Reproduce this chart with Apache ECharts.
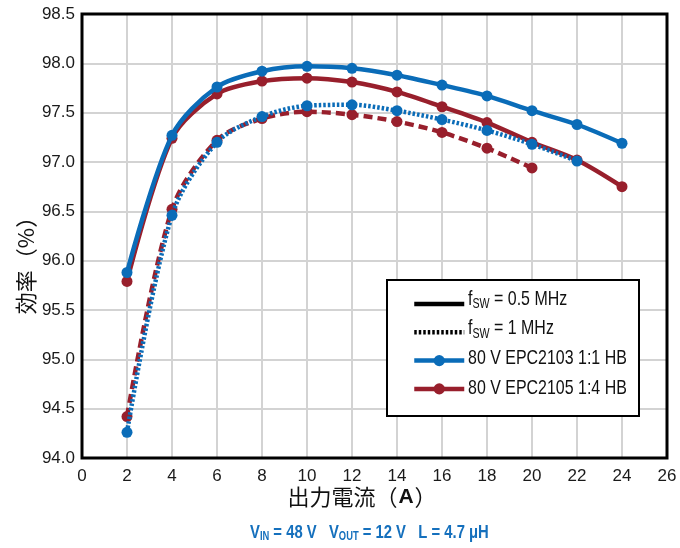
<!DOCTYPE html>
<html>
<head>
<meta charset="utf-8">
<script src="https://cdn.jsdelivr.net/npm/echarts@6/dist/echarts.min.js"></script>
<style>
  html, body { margin: 0; padding: 0; background: #fff; }
  #chart { width: 680px; height: 548px; }
</style>
</head>
<body>
<div id="chart"></div>
<script>
// Output current (A) at each measured point
const currents = [2, 4, 6, 8, 10, 12, 14, 16, 18, 20, 22, 24];

// Efficiency (%) at fsw = 0.5 MHz
const epc2103Half = [95.88, 97.27, 97.76, 97.92, 97.97, 97.95, 97.88, 97.78, 97.67, 97.52, 97.38, 97.19];
const epc2105Half = [95.79, 97.24, 97.69, 97.82, 97.85, 97.81, 97.71, 97.56, 97.40, 97.20, 97.02, 96.75];

// Efficiency (%) at fsw = 1 MHz
const epc2103One = [94.26, 96.46, 97.20, 97.46, 97.57, 97.58, 97.52, 97.43, 97.32, 97.18, 97.01];
const epc2105One = [94.42, 96.52, 97.22, 97.44, 97.51, 97.48, 97.41, 97.30, 97.14, 96.94];

// Axis ticks
const xTicks = { min: 0, max: 26, step: 2 };
const yTicks = { min: 94.0, max: 98.5, step: 0.5 };

// Legend entries and their labels
const legendNames = ['fsw05', 'fsw1', '80 V EPC2103 1:1 HB', '80 V EPC2105 1:4 HB'];
const legendLabels = [
  '{t|f}{s|SW}{t| = 0.5 MHz}',
  '{t|f}{s|SW}{t| = 1 MHz}',
  '{t|80 V EPC2103 1:1 HB}',
  '{t|80 V EPC2105 1:4 HB}'
];

const BLUE = '#0a6cb8';
const RED = '#981f2c';
const FONT = "'Liberation Sans', Arial, sans-serif";
const CJK = "'Noto Sans CJK JP', sans-serif";

const G = { left: 82, top: 14, right: 13, bottom: 90 };
const W = 680, H = 548;

// legend layout
const LEG = { boxX: 387, boxY: 280, boxW: 252, boxH: 136, iconX: 407, firstRow: 299, rowStep: 29.7, textX: 468 };

function pairs(vals) { return vals.map((v, i) => [currents[i], v]); }

const chart = echarts.init(document.getElementById('chart'), null, { renderer: 'canvas' });

const lineW = 4.5;
const sym = 11;
const smoothness = 0.3;
const NARROW = 0.76;

const legendText = legendLabels.map((txt, i) => ({
  type: 'text', z: 30, x: LEG.textX, y: LEG.firstRow + i * LEG.rowStep, scaleX: NARROW,
  style: {
    text: txt, align: 'left', verticalAlign: 'middle',
    rich: {
      t: { font: '21px ' + FONT, fill: '#111' },
      s: { font: '14px ' + FONT, fill: '#111', verticalAlign: 'bottom', padding: [10, 0, 0, 0] }
    }
  }
}));

chart.setOption({
  animation: false,
  backgroundColor: '#fff',
  grid: { left: G.left, top: G.top, right: G.right, bottom: G.bottom, containLabel: false },
  xAxis: {
    type: 'value', min: xTicks.min, max: xTicks.max, interval: xTicks.step,
    axisLine: { show: false }, axisTick: { show: false },
    splitLine: { show: true, lineStyle: { color: '#d3d3d3', width: 2 } },
    axisLabel: { fontFamily: FONT, fontSize: 17, color: '#1a1a1a', margin: 10 }
  },
  yAxis: {
    type: 'value', min: yTicks.min, max: yTicks.max, interval: yTicks.step,
    axisLine: { show: false }, axisTick: { show: false },
    splitLine: { show: true, lineStyle: { color: '#d3d3d3', width: 2 } },
    axisLabel: { fontFamily: FONT, fontSize: 17, color: '#1a1a1a', margin: 7,
      formatter: v => v.toFixed(1) }
  },
  legend: {
    orient: 'vertical', left: LEG.iconX, top: LEG.firstRow - 7,
    data: legendNames,
    itemWidth: 50, itemHeight: 14, itemGap: LEG.rowStep - 14,
    lineStyle: { width: 4.5 },
    formatter: () => '',
    selectedMode: false, z: 20
  },
  graphic: [
    { type: 'rect', z: 15,
      shape: { x: LEG.boxX, y: LEG.boxY, width: LEG.boxW, height: LEG.boxH },
      style: { fill: '#fff', stroke: '#000', lineWidth: 2 } },
    { type: 'rect', z: 30, silent: true,
      shape: { x: G.left, y: G.top, width: W - G.left - G.right, height: H - G.top - G.bottom },
      style: { fill: 'none', stroke: '#000', lineWidth: 3 } },
    { type: 'text', z: 30, x: 26, y: 260, rotation: Math.PI / 2,
      style: { text: '効率（%）', font: '22px ' + CJK, fill: '#111', align: 'center', verticalAlign: 'middle' } },
    { type: 'text', z: 30, x: 362, y: 497,
      style: {
        text: '{c|出力電流（}{b|A}{c|）}', align: 'center', verticalAlign: 'middle',
        rich: {
          c: { font: '22px ' + CJK, fill: '#111' },
          b: { font: 'bold 21px ' + FONT, fill: '#111', padding: [0, 1, 0, 1] }
        }
      } },
    { type: 'text', z: 30, x: 250, y: 533, scaleX: 0.78,
      style: {
        text: '{m|V}{s|IN}{m| = 48 V   V}{s|OUT}{m| = 12 V   L = 4.7 μH}',
        align: 'left', verticalAlign: 'middle',
        rich: {
          m: { font: 'bold 19px ' + FONT, fill: '#1570bd' },
          s: { font: 'bold 12px ' + FONT, fill: '#1570bd', verticalAlign: 'bottom', padding: [8, 0, 0, 0] }
        }
      } }
  ].concat(legendText),
  series: [
    { name: 'fsw05', type: 'line', data: [], symbol: 'circle',
      lineStyle: { color: '#000', width: 5, type: 'solid' },
      itemStyle: { color: 'rgba(0,0,0,0)', borderWidth: 0 } },
    { name: 'fsw1', type: 'line', data: [], symbol: 'circle',
      lineStyle: { color: '#000', width: 5, type: [2.5, 2] },
      itemStyle: { color: 'rgba(0,0,0,0)', borderWidth: 0 } },
    { name: '80 V EPC2105 1:4 HB (1 MHz)', type: 'line', data: pairs(epc2105One), smooth: smoothness,
      symbol: 'circle', symbolSize: sym, z: 2,
      lineStyle: { color: RED, width: lineW, type: [9, 5] }, itemStyle: { color: RED } },
    { name: '80 V EPC2105 1:4 HB', type: 'line', data: pairs(epc2105Half), smooth: smoothness,
      symbol: 'circle', symbolSize: sym, z: 3,
      lineStyle: { color: RED, width: lineW }, itemStyle: { color: RED } },
    { name: '80 V EPC2103 1:1 HB', type: 'line', data: pairs(epc2103Half), smooth: smoothness,
      symbol: 'circle', symbolSize: sym, z: 4,
      lineStyle: { color: BLUE, width: lineW }, itemStyle: { color: BLUE } },
    { name: '80 V EPC2103 1:1 HB (1 MHz)', type: 'line', data: pairs(epc2103One), smooth: smoothness,
      symbol: 'circle', symbolSize: sym, z: 5,
      lineStyle: { color: BLUE, width: lineW, type: [2.5, 2] }, itemStyle: { color: BLUE } }
  ]
});
</script>
</body>
</html>
